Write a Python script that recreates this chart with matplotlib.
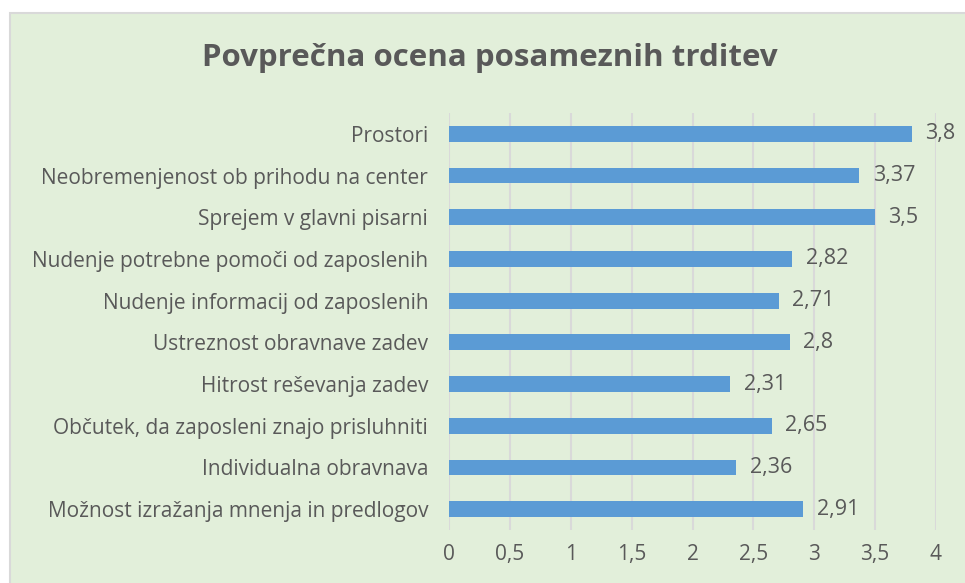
import matplotlib.pyplot as plt
from matplotlib.patches import Rectangle

# podatki
trditve = ['Prostori', 'Neobremenjenost ob prihodu na center', 'Sprejem v glavni pisarni',
           'Nudenje potrebne pomoči od zaposlenih', 'Nudenje informacij od zaposlenih',
           'Ustreznost obravnave zadev', 'Hitrost reševanja zadev',
           'Občutek, da zaposleni znajo prisluhniti', 'Individualna obravnava',
           'Možnost izražanja mnenja in predlogov']
ocene = [3.8, 3.37, 3.5, 2.82, 2.71, 2.8, 2.31, 2.65, 2.36, 2.91]
oznake_x = ['0', '0,5', '1', '1,5', '2', '2,5', '3', '3,5', '4']

plt.rcParams['font.family'] = ['Open Sans', 'DejaVu Sans']
siva = '#595959'

fig = plt.figure(figsize=(9.65, 5.83), dpi=100)
fig.patch.set_facecolor('white')
# ozadje grafikona
fig.add_artist(Rectangle((10 / 965, -0.01), 1.0, 1 - 13 / 583 + 0.01, transform=fig.transFigure,
                         facecolor='#E2EFDA', edgecolor='#D9D9D9', linewidth=1.5, zorder=-5))

ax = fig.add_axes([449 / 965, 1 - 530 / 583, (936 - 449) / 965, (530 - 113) / 583])
ax.set_facecolor('none')

y = range(len(trditve))
ax.barh(y, ocene, height=0.38, color='#5B9BD5', zorder=3)
for i, v in enumerate(ocene):
    ax.text(v + 0.11, i, str(v).replace('.', ','), va='center', ha='left',
            fontsize=15.5, color=siva)

ax.set_ylim(len(trditve) - 0.5, -0.5)
ax.set_xlim(0, 4)
ax.set_yticks(list(y))
ax.set_yticklabels(trditve, fontsize=15, color=siva)
ax.set_xticks([i * 0.5 for i in range(9)])
ax.set_xticklabels(oznake_x, fontsize=15, color=siva)
ax.tick_params(length=0)
ax.tick_params(axis='x', pad=10)
ax.tick_params(axis='y', pad=15)
ax.grid(axis='x', color='#D9D9D9', linewidth=1.5, zorder=0)
for s in ax.spines.values():
    s.set_visible(False)

fig.text(490 / 965, 1 - 58 / 583, 'Povprečna ocena posameznih trditev', ha='center', va='center',
         fontsize=22.5, fontweight='bold', color=siva)

fig.savefig('out.png', dpi=100)
